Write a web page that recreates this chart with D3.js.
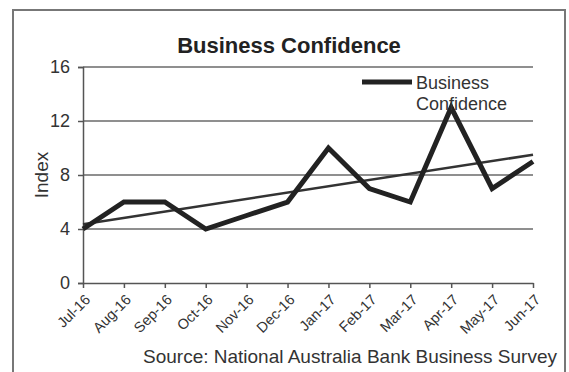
<!DOCTYPE html>
<html>
<head>
<meta charset="utf-8">
<script src="https://cdn.jsdelivr.net/npm/d3@7"></script>
<style>
	body { margin: 0; background: #fff; }
	svg { display: block; font-family: 'Liberation Sans', Arial, sans-serif; }
</style>
</head>
<body>
<svg id="chart"></svg>
<script>
const months = ['Jul-16', 'Aug-16', 'Sep-16', 'Oct-16', 'Nov-16', 'Dec-16',
	'Jan-17', 'Feb-17', 'Mar-17', 'Apr-17', 'May-17', 'Jun-17']
const confidence = [4, 6, 6, 4, 5, 6, 10, 7, 6, 13, 7, 9]
const trendEnds = [4.35, 9.5]
const yTicks = [0, 4, 8, 12, 16]

const width = 569, height = 372
const plot = { left: 83, right: 533, top: 67, bottom: 283 }
const fontFam = "'Liberation Sans', Arial, sans-serif"

const svg = d3.select('#chart').attr('width', width).attr('height', height)

// outer frame
svg.append('rect')
	.attr('x', 13).attr('y', 10)
	.attr('width', 552).attr('height', 380)
	.attr('fill', '#fff')
	.attr('stroke', '#777').attr('stroke-width', 2)

const x = d3.scalePoint().domain(months).range([plot.left, plot.right])
const y = d3.scaleLinear().domain([0, 16]).range([plot.bottom, plot.top])

// gridlines
svg.append('g')
	.selectAll('line')
	.data(yTicks.filter(d => d > 0)).enter().append('line')
	.attr('x1', plot.left).attr('x2', plot.right)
	.attr('y1', d => y(d)).attr('y2', d => y(d))
	.attr('stroke', '#6a6a6a').attr('stroke-width', 1.5)

// y axis
const yAxis = svg.append('g')
	.attr('transform', `translate(${plot.left},0)`)
	.call(d3.axisLeft(y).tickValues(yTicks).tickSize(5).tickPadding(8))
yAxis.selectAll('path, line').attr('stroke', '#555').attr('stroke-width', 1.5)
yAxis.selectAll('text').attr('font-size', 18).attr('fill', '#333')
	.attr('font-family', fontFam)

// x axis
const xAxis = svg.append('g')
	.attr('transform', `translate(0,${plot.bottom})`)
	.call(d3.axisBottom(x).tickSize(5).tickSizeOuter(0))
xAxis.select('.domain').attr('stroke', '#555').attr('stroke-width', 1.5)
xAxis.selectAll('line').attr('stroke', '#555').attr('stroke-width', 1.5)
xAxis.selectAll('text')
	.attr('font-size', 14.5).attr('fill', '#333')
	.attr('font-family', fontFam)
	.attr('text-anchor', 'end')
	.attr('x', 0).attr('y', 0).attr('dy', '0.35em')
	.attr('transform', 'translate(4,14) rotate(-45)')

// trend line
svg.append('line')
	.attr('x1', x(months[0])).attr('y1', y(trendEnds[0]))
	.attr('x2', x(months[months.length - 1])).attr('y2', y(trendEnds[1]))
	.attr('stroke', '#333').attr('stroke-width', 2.5)

// data line
const lineMkr = d3.line().x((d, i) => x(months[i])).y(d => y(d))
svg.append('path')
	.attr('d', lineMkr(confidence))
	.attr('fill', 'none')
	.attr('stroke', '#222')
	.attr('stroke-width', 5)
	.attr('stroke-linejoin', 'miter')

// title
svg.append('text')
	.attr('x', 289).attr('y', 53)
	.attr('text-anchor', 'middle')
	.attr('font-size', 22).attr('font-weight', 'bold')
	.attr('fill', '#222')
	.text('Business Confidence')

// y title
svg.append('text')
	.attr('transform', 'translate(48,175) rotate(-90)')
	.attr('text-anchor', 'middle')
	.attr('font-size', 19).attr('fill', '#333')
	.text('Index')

// legend
const lg = svg.append('g')
lg.append('line')
	.attr('x1', 362).attr('x2', 412).attr('y1', 82).attr('y2', 82)
	.attr('stroke', '#222').attr('stroke-width', 5)
lg.append('text').attr('x', 416).attr('y', 89)
	.attr('font-size', 18).attr('fill', '#333').text('Business')
lg.append('text').attr('x', 416).attr('y', 110)
	.attr('font-size', 18).attr('fill', '#333').text('Confidence')

// source
svg.append('text')
	.attr('x', 557).attr('y', 363)
	.attr('text-anchor', 'end')
	.attr('font-size', 19).attr('fill', '#333')
	.text('Source: National Australia Bank Business Survey')
</script>
</body>
</html>
